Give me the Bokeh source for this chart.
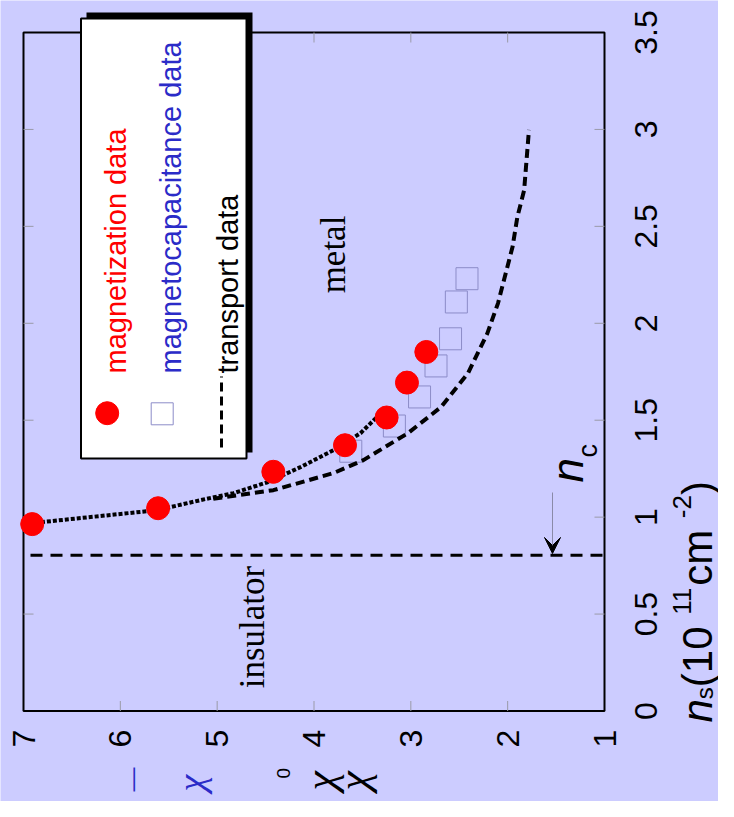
import math
from bokeh.plotting import figure
from bokeh.models import Range1d, Arrow, VeeHead
from bokeh.core.properties import value
from bokeh.embed import file_html
from bokeh.resources import INLINE

# ---------------- data (x = chi/chi0, y = n_s in 1e11 cm^-2) ----------------
chi_magnetization = [6.91, 5.61, 4.42, 3.68, 3.25, 3.04, 2.84]
ns_magnetization = [0.964, 1.046, 1.234, 1.371, 1.514, 1.694, 1.852]

chi_capacitance = [3.62, 3.17, 2.91, 2.74, 2.59, 2.53, 2.42]
ns_capacitance = [1.34, 1.47, 1.62, 1.78, 1.92, 2.11, 2.23]

chi_transport = [5.04, 4.42, 3.80, 3.49, 3.03, 2.69, 2.41, 2.21, 2.10, 2.02, 1.95, 1.90, 1.83, 1.78]
ns_transport = [1.095, 1.139, 1.227, 1.294, 1.433, 1.567, 1.742, 1.948, 2.103, 2.258, 2.393, 2.548, 2.686, 2.998]

chi_fit = [6.82, 5.62, 5.17, 4.83, 4.48, 4.14, 3.80, 3.52, 3.31, 3.25]
ns_fit = [0.974, 1.036, 1.088, 1.124, 1.180, 1.258, 1.345, 1.433, 1.536, 1.560]

n_c = 0.804

chi_ticks = [7, 6, 5, 4, 3, 2, 1]
chi_tick_labels = ["7", "6", "5", "4", "3", "2", "1"]
ns_ticks = [0, 0.5, 1, 1.5, 2, 2.5, 3, 3.5]
ns_tick_labels = ["0", "0.5", "1", "1.5", "2", "2.5", "3", "3.5"]

legend_labels = ["magnetization data", "magnetocapacitance data", "transport data"]

# ---------------- layout ----------------
BG = "#ccccff"
SQ = "#8c8cc8"
BLUE = "#2b2bc8"
W, H = 718, 801
X7, X1 = 23.0, 604.0      # picture x of chi = 7 and chi = 1
Y0, Y35 = 710.5, 32.0     # picture y of n = 0 and n = 3.5
SX = (X1 - X7) / 6.0
SY = (Y0 - Y35) / 3.5


def cx(px):
    return 7 - (px - X7) / SX


def cy(py):
    return (Y0 - py) / SY


p = figure(width=W, height=H, x_range=Range1d(cx(0), cx(W)),
           y_range=Range1d(cy(H), cy(0)), output_backend="svg",
           toolbar_location=None, x_axis_location=None, y_axis_location=None,
           min_border=0, background_fill_color=BG, border_fill_color=BG,
           outline_line_color=None)
p.grid.grid_line_color = None

SANS = value("Liberation Sans")
SERIF = value("Liberation Serif")
UP = math.pi / 2

# plot box
p.quad(left=[chi_ticks[0]], right=[chi_ticks[-1]], bottom=[ns_ticks[0]], top=[ns_ticks[-1]],
       fill_color=None, line_color="black", line_width=2)

# inner tick marks
tlx = 10 / SX
tly = 10 / SY
inner_chi = chi_ticks[1:-1]
inner_ns = ns_ticks[1:-1]
TC = "#9a9aa8"
p.segment(x0=inner_chi, y0=[ns_ticks[0]] * len(inner_chi), x1=inner_chi,
          y1=[ns_ticks[0] + tly] * len(inner_chi), line_color=TC, line_width=1)
p.segment(x0=inner_chi, y0=[ns_ticks[-1]] * len(inner_chi), x1=inner_chi,
          y1=[ns_ticks[-1] - tly] * len(inner_chi), line_color=TC, line_width=1)
p.segment(x0=[chi_ticks[0]] * len(inner_ns), y0=inner_ns, x1=[chi_ticks[0] - tlx] * len(inner_ns),
          y1=inner_ns, line_color=TC, line_width=1)
p.segment(x0=[chi_ticks[-1]] * len(inner_ns), y0=inner_ns, x1=[chi_ticks[-1] + tlx] * len(inner_ns),
          y1=inner_ns, line_color=TC, line_width=1)

# tick labels (rotated like the whole picture)
p.text(x=chi_ticks, y=[cy(738)] * len(chi_ticks), text=chi_tick_labels, angle=UP,
       text_align="center", text_baseline="middle", text_font=SANS,
       text_font_size="32px", text_color="black")
p.text(x=[cx(645)] * len(ns_ticks), y=ns_ticks, text=ns_tick_labels, angle=UP,
       text_align="center", text_baseline="middle", text_font=SANS,
       text_font_size="32px", text_color="black")

# critical density line
p.line(x=[cx(30), chi_ticks[-1]], y=[n_c, n_c], line_color="black", line_width=3,
       line_dash="12 8")

# data
p.scatter(chi_capacitance, ns_capacitance, marker="square", size=22,
          fill_color=None, line_color=SQ, line_width=1)
p.line(chi_fit, ns_fit, line_color="black", line_width=4, line_dash="4 2")
p.line(chi_transport, ns_transport, line_color="black", line_width=4, line_dash="9 5")
p.scatter(chi_magnetization, ns_magnetization, marker="circle", size=23,
          fill_color="#ff0000", line_color="#ff0000")

# region labels
p.text(x=[cx(333)], y=[cy(254)], text=["metal"], angle=UP, text_align="center",
       text_baseline="alphabetic", text_font=SERIF, text_font_size="35px", text_color="black")
p.text(x=[cx(252)], y=[cy(626.5)], text=["insulator"], angle=UP, text_align="center",
       text_baseline="alphabetic", text_font=SERIF, text_font_size="35px", text_color="black")

# n_c arrow and label
p.add_layout(Arrow(end=VeeHead(size=16, fill_color="black", line_color="black"),
                   x_start=cx(552), y_start=cy(492), x_end=cx(552), y_end=cy(553),
                   line_color="#8a8aa8", line_width=1))
p.text(x=[cx(567)], y=[cy(482)], text=["n"], angle=UP, text_align="left",
       text_baseline="alphabetic", text_font=SANS, text_font_style="italic",
       text_font_size="44px", text_color="black")
p.text(x=[cx(587)], y=[cy(457)], text=["c"], angle=UP, text_align="left",
       text_baseline="alphabetic", text_font=SANS, text_font_size="27px", text_color="black")

# n_s axis label, laid out piece by piece along the rotated baseline
WID = {'n': .556, 's': .5, ' ': .278, '(': .333, ')': .333, '1': .556, '0': .556,
       'c': .5, 'm': .833, '-': .333, '2': .556}
pieces = [("n", 42, "italic", 0), ("s", 24, "normal", 7), (" (10", 42, "normal", 0),
          ("11", 26, "normal", -16), (" cm", 42, "normal", 0), ("-2", 26, "normal", -16),
          (")", 42, "normal", 0)]
ypos = 722.0
for txt, size, style, shift in pieces:
    p.text(x=[cx(697 + shift)], y=[cy(ypos)], text=[txt], angle=UP, text_align="left",
           text_baseline="alphabetic", text_font=SANS, text_font_style=style,
           text_font_size=f"{size}px", text_color="black")
    ypos -= sum(WID[ch] for ch in txt) * size

# chi axis label fragments at the bottom edge
p.text(x=[cx(320), cx(353)], y=[cy(790), cy(790)], text=["χ", "χ"], angle=UP,
       text_align="left", text_baseline="alphabetic", text_font=SERIF,
       text_font_style="italic", text_font_size="44px", text_color="black")
p.text(x=[cx(283)], y=[cy(778)], text=["0"], angle=UP, text_align="left",
       text_baseline="alphabetic", text_font=SANS, text_font_size="19px", text_color="black")
p.text(x=[cx(131)], y=[cy(791)], text=["—"], angle=UP, text_align="left",
       text_baseline="middle", text_font=SANS, text_font_size="24px", text_color=BLUE)
p.text(x=[cx(190)], y=[cy(791)], text=["χ"], angle=UP, text_align="left",
       text_baseline="alphabetic", text_font=SERIF, text_font_style="italic",
       text_font_size="38px", text_color=BLUE)

# legend box with shadow
p.quad(left=[cx(86)], right=[cx(252)], top=[cy(12)], bottom=[cy(452)],
       fill_color="black", line_color=None)
p.quad(left=[cx(80.5)], right=[cx(246)], top=[cy(18)], bottom=[cy(458)],
       fill_color="white", line_color="black", line_width=2)
p.scatter([cx(106.7)], [cy(412.7)], marker="circle", size=23, fill_color="#ff0000",
          line_color="#ff0000")
p.scatter([cx(161.7)], [cy(413.3)], marker="square", size=22, fill_color=None,
          line_color=SQ, line_width=1)
p.line([cx(221), cx(221)], [cy(447), cy(376)], line_color="black", line_width=3,
       line_dash="9 5")
p.text(x=[cx(115)], y=[cy(373)], text=[legend_labels[0]], angle=UP, text_align="left",
       text_baseline="alphabetic", text_font=SANS, text_font_size="29px", text_color="#ff0000")
p.text(x=[cx(170)], y=[cy(373)], text=[legend_labels[1]], angle=UP, text_align="left",
       text_baseline="alphabetic", text_font=SANS, text_font_size="29px", text_color=BLUE)
p.text(x=[cx(227)], y=[cy(373)], text=[legend_labels[2]], angle=UP, text_align="left",
       text_baseline="alphabetic", text_font=SANS, text_font_size="29px", text_color="black")

open("out.html", "w").write(file_html(p, INLINE))
